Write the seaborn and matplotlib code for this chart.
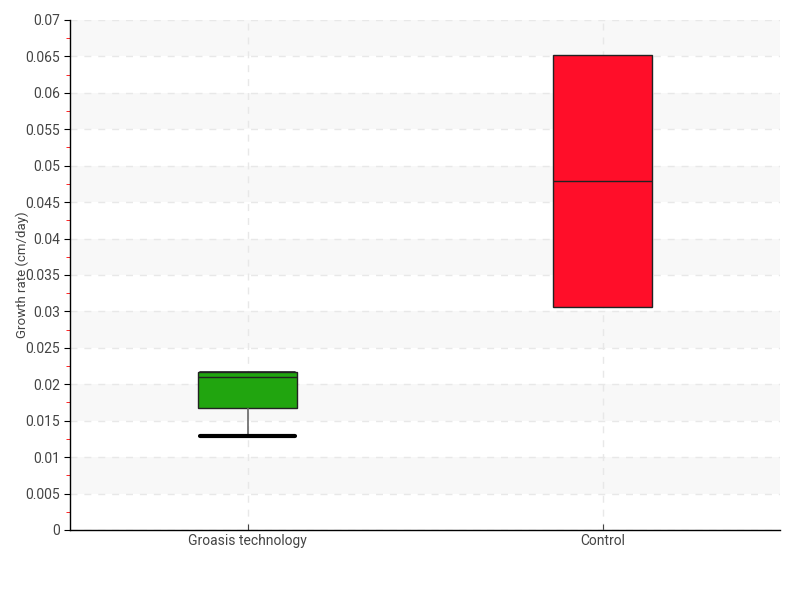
import numpy as np
import pandas as pd
import matplotlib
matplotlib.use("Agg")
import matplotlib.pyplot as plt
import seaborn as sns
from matplotlib.ticker import MultipleLocator

# values: five-number summaries as samples
categories = ["Groasis technology", "Control"]
groasis_values = [0.0129, 0.01675, 0.0210, 0.0217, 0.0217]
control_values = [0.0306, 0.0306, 0.0479, 0.0652, 0.0652]
box_colors = ["#21a50f", "#ff0e29"]

df = pd.DataFrame({
    "Treatment": [categories[0]] * len(groasis_values) + [categories[1]] * len(control_values),
    "Growth": groasis_values + control_values,
})

sns.set_style("white")
plt.rcParams["font.family"] = ["Roboto", "DejaVu Sans"]

fig = plt.figure(figsize=(8, 6), dpi=100)
ax = fig.add_axes([0.0875, 0.1167, 0.8875, 0.85])

# alternating background bands
for lo in np.arange(0.005, 0.07, 0.01):
    ax.axhspan(lo, lo + 0.005, color="#f8f8f8", zorder=0, lw=0)

sns.boxplot(
    data=df, x="Treatment", y="Growth", hue="Treatment", order=categories,
    palette=dict(zip(categories, box_colors)), width=0.28, legend=False,
    linecolor="#222222", linewidth=1, whis=1.5, saturation=1,
    capwidths=0.27, ax=ax,
    whiskerprops=dict(color="#666666", linewidth=1.2),
    capprops=dict(color="black", linewidth=3),
    medianprops=dict(color="#222222", linewidth=1),
)

# caps: only the lower Groasis cap is drawn thick
for cont, name in zip(ax.containers, categories):
    caps = getattr(cont, "caps", [])
    if name == "Control":
        for c in caps:
            c.set_visible(False)
    elif len(caps) == 2:
        caps[1].set_linewidth(1.2)
        caps[1].set_color("#222222")

ax.set_xlim(-0.5, 1.5)
ax.set_ylim(0, 0.07)
ax.yaxis.set_major_locator(MultipleLocator(0.005))
ax.yaxis.set_minor_locator(MultipleLocator(0.0025))
ax.set_yticklabels([f"{v:g}" for v in ax.get_yticks()])

ax.grid(True, which="major", axis="both", color="#e8e8e8", linestyle=(0, (5, 5)), linewidth=1)
ax.set_axisbelow(True)

for s in ["top", "right"]:
    ax.spines[s].set_visible(False)
for s in ["left", "bottom"]:
    ax.spines[s].set_color("black")
    ax.spines[s].set_linewidth(1)

ax.tick_params(axis="y", which="major", direction="out", length=4, color="black",
               labelsize=10, labelcolor="#444444", left=True, pad=3)
ax.tick_params(axis="y", which="minor", direction="out", length=3, color="red", left=True)
ax.tick_params(axis="x", which="major", direction="in", length=4, color="#444444",
               labelsize=10, labelcolor="#444444", bottom=True, pad=3)

ax.set_xlabel("")
ax.set_ylabel("Growth rate (cm/day)", fontsize=9.5, color="#444444")
ax.yaxis.set_label_coords(-0.058, 0.5)

fig.savefig("out.png", dpi=100)
